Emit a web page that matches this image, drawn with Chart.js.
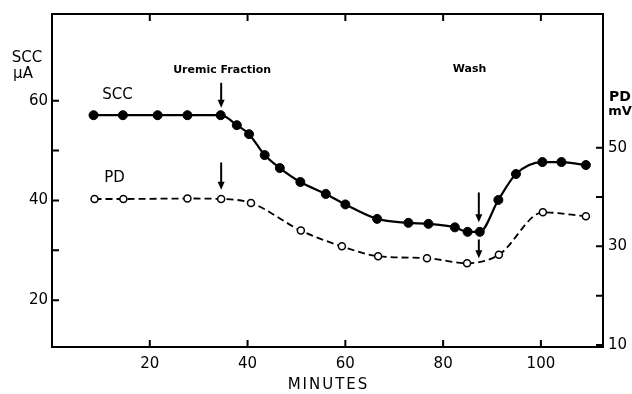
<!DOCTYPE html>
<html>
<head>
<meta charset="utf-8">
<script src="https://cdn.jsdelivr.net/npm/chart.js@4"></script>
<style>
  html, body { margin: 0; padding: 0; background: #fff; }
  #wrap { width: 632px; height: 394px; }
</style>
</head>
<body>
<div id="wrap"><canvas id="chart" width="632" height="394"></canvas></div>
<script>
// short-circuit current (filled dots, left axis)
const sccMinutes = [8.5, 14.5, 21.6, 27.7, 34.5, 37.8, 40.3, 43.5, 46.6, 50.8, 56.0, 60.0,
  66.5, 72.9, 77.0, 82.4, 85.0, 87.5, 91.3, 94.9, 100.3, 104.2, 109.2];
const sccValues = [57.1, 57.1, 57.1, 57.1, 57.1, 55.1, 53.3, 49.1, 46.5, 43.7, 41.3, 39.2,
  36.3, 35.5, 35.3, 34.6, 33.7, 33.7, 40.1, 45.3, 47.7, 47.7, 47.1];

// potential difference (open dots, right axis)
const pdMinutes = [8.7, 14.6, 27.7, 34.6, 40.7, 50.9, 59.3, 66.7, 76.7, 84.9, 91.4, 100.4, 109.2];
const pdValues = [39.6, 39.6, 39.7, 39.6, 38.8, 33.2, 30.0, 28.0, 27.6, 26.6, 28.3, 36.9, 36.1];

const xTicks = [20, 40, 60, 80, 100];
const sccTicks = [20, 30, 40, 50, 60];
const sccLabels = [20, 40, 60];
const pdTicks = [10, 20, 30, 40, 50];
const pdLabels = [10, 30, 50];

const FONT = '"DejaVu Sans", sans-serif';

// arrows marking when the fraction was added and when it was washed out
const arrows = [
  { x: 34.6, axis: 'y', from: 63.6, to: 58.6 },
  { x: 34.6, axis: 'y2', from: 47.0, to: 41.5 },
  { x: 87.3, axis: 'y', from: 41.6, to: 35.6 },
  { x: 87.3, axis: 'y2', from: 31.4, to: 27.6 }
];

const notes = [
  { text: 'Uremic Fraction', x: 34.8, axis: 'y', y: 66.2, font: 'bold 11px ' + FONT },
  { text: 'Wash', x: 85.4, axis: 'y', y: 66.4, font: 'bold 11px ' + FONT },
  { text: 'SCC', x: 13.4, axis: 'y', y: 61.2, font: '15px ' + FONT },
  { text: 'PD', x: 12.8, axis: 'y2', y: 43.8, font: '15px ' + FONT }
];

function pts(xs, ys) {
  return xs.map((x, i) => ({ x: x, y: ys[i] }));
}

const frame = {
  id: 'frame',
  afterDraw(chart) {
    const { ctx, chartArea: a, scales } = chart;
    ctx.save();
    ctx.strokeStyle = '#000';
    ctx.lineWidth = 2;
    ctx.strokeRect(a.left, a.top, a.right - a.left, a.bottom - a.top);

    // inward tick marks on all four sides
    const len = 7;
    ctx.beginPath();
    xTicks.forEach(v => {
      const px = scales.x.getPixelForValue(v);
      ctx.moveTo(px, a.bottom); ctx.lineTo(px, a.bottom - len);
      ctx.moveTo(px, a.top); ctx.lineTo(px, a.top + len);
    });
    sccTicks.forEach(v => {
      const py = scales.y.getPixelForValue(v);
      ctx.moveTo(a.left, py); ctx.lineTo(a.left + len, py);
    });
    pdTicks.forEach(v => {
      const py = scales.y2.getPixelForValue(v);
      ctx.moveTo(a.right, py); ctx.lineTo(a.right - len, py);
    });
    ctx.stroke();

    // arrows
    ctx.fillStyle = '#000';
    ctx.lineWidth = 2;
    arrows.forEach(ar => {
      const px = scales.x.getPixelForValue(ar.x);
      const y1 = scales[ar.axis].getPixelForValue(ar.from);
      const y2 = scales[ar.axis].getPixelForValue(ar.to);
      ctx.beginPath();
      ctx.moveTo(px, y1); ctx.lineTo(px, y2 - 6);
      ctx.stroke();
      ctx.beginPath();
      ctx.moveTo(px - 3.5, y2 - 8); ctx.lineTo(px + 3.5, y2 - 8); ctx.lineTo(px, y2);
      ctx.closePath();
      ctx.fill();
    });

    // text notes
    ctx.textAlign = 'center';
    ctx.textBaseline = 'middle';
    notes.forEach(n => {
      ctx.font = n.font;
      ctx.fillText(n.text, scales.x.getPixelForValue(n.x), scales[n.axis].getPixelForValue(n.y));
    });

    // axis titles
    ctx.font = '15px ' + FONT;
    ctx.fillText('SCC', 27, 58);
    ctx.fillText('\u03bcA', 23, 74);
    ctx.font = 'bold 14px ' + FONT;
    ctx.fillText('PD', 620, 97);
    ctx.font = 'bold 13px ' + FONT;
    ctx.fillText('mV', 620, 112);
    ctx.font = '15px ' + FONT;
    ctx.letterSpacing = '2px';
    ctx.fillText('MINUTES', (a.left + a.right) / 2 + 1, 385);
    ctx.restore();
  }
};

new Chart(document.getElementById('chart'), {
  type: 'line',
  data: {
    datasets: [
      {
        label: 'SCC',
        data: pts(sccMinutes, sccValues),
        yAxisID: 'y',
        borderColor: '#000',
        borderWidth: 2.2,
        pointRadius: 4.5,
        pointBackgroundColor: '#000',
        pointBorderColor: '#000',
        pointBorderWidth: 1,
        cubicInterpolationMode: 'monotone'
      },
      {
        label: 'PD',
        data: pts(pdMinutes, pdValues),
        yAxisID: 'y2',
        borderColor: '#000',
        borderWidth: 1.8,
        borderDash: [7, 4],
        pointRadius: 3.5,
        pointBackgroundColor: '#fff',
        pointBorderColor: '#000',
        pointBorderWidth: 1.5,
        cubicInterpolationMode: 'monotone'
      }
    ]
  },
  options: {
    responsive: false,
    animation: false,
    layout: { padding: { top: 13, left: 0, right: 0, bottom: 0 } },
    plugins: { legend: { display: false }, tooltip: { enabled: false } },
    scales: {
      x: {
        type: 'linear',
        min: 0,
        max: 112.7,
        grid: { display: false, drawTicks: false },
        border: { display: false },
        afterBuildTicks: s => { s.ticks = xTicks.map(v => ({ value: v })); },
        afterFit: s => { s.height = 47; },
        ticks: { color: '#000', padding: 8, font: { family: FONT, size: 15 }, maxRotation: 0 }
      },
      y: {
        position: 'left',
        min: 10.6,
        max: 77.4,
        grid: { display: false, drawTicks: false },
        border: { display: false },
        afterBuildTicks: s => { s.ticks = sccTicks.map(v => ({ value: v })); },
        afterFit: s => { s.width = 52; },
        ticks: {
          color: '#000', padding: 4, font: { family: FONT, size: 15 },
          callback: v => sccLabels.includes(v) ? String(v) : ''
        }
      },
      y2: {
        position: 'right',
        min: 9.6,
        max: 77.1,
        grid: { display: false, drawTicks: false },
        border: { display: false },
        afterBuildTicks: s => { s.ticks = pdTicks.map(v => ({ value: v })); },
        afterFit: s => { s.width = 29; },
        ticks: {
          color: '#000', padding: 5, font: { family: FONT, size: 15 },
          callback: v => pdLabels.includes(v) ? String(v) : ''
        }
      }
    }
  },
  plugins: [frame]
});
</script>
</body>
</html>
